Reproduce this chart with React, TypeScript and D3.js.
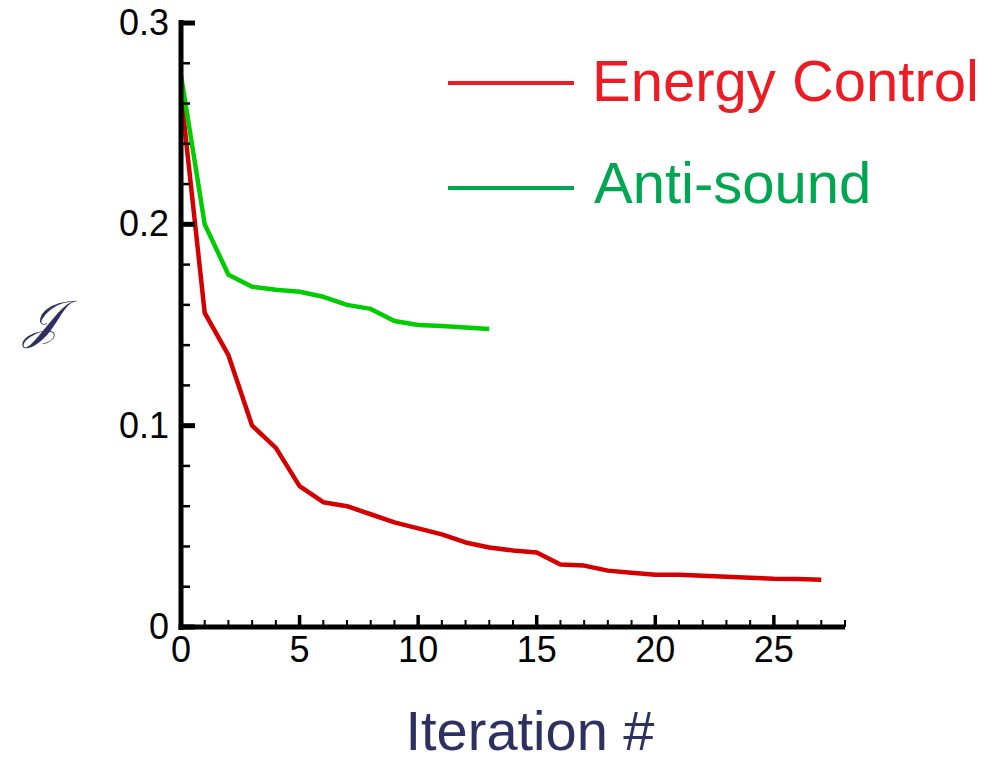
import React from "react";
import * as d3 from "d3";

const energyX = [0,1,2,3,4,5,6,7,8,9,10,11,12,13,14,15,16,17,18,19,20,21,22,23,24,25,26,27];
const energyY = [0.265,0.156,0.135,0.100,0.089,0.070,0.062,0.060,0.056,0.052,0.049,0.046,0.042,0.0395,0.038,0.037,0.031,0.0305,0.028,0.027,0.026,0.026,0.0255,0.025,0.0245,0.024,0.0238,0.0235];
const antiX = [0,1,2,3,4,5,6,7,8,9,10,11,12,13];
const antiY = [0.274,0.200,0.175,0.169,0.1675,0.1665,0.164,0.160,0.158,0.152,0.150,0.1495,0.1487,0.148];
const xMajorTicks = [0,5,10,15,20,25];
const yMajorTicks = [0,0.1,0.2,0.3];
const yTickLabels = ["0","0.1","0.2","0.3"];
const legendLabels = ["Energy Control","Anti-sound"];

export default function App() {
  const W = 996, H = 763;
  const x = d3.scaleLinear().domain([0, 28]).range([181, 845]);
  const y = d3.scaleLinear().domain([0, 0.3]).range([627, 23]);
  const line = d3.line<[number, number]>().x(d => x(d[0])).y(d => y(d[1]));
  const redPts = energyX.map((v, i) => [v, energyY[i]] as [number, number]);
  const greenPts = antiX.map((v, i) => [v, antiY[i]] as [number, number]);
  const xMinor = d3.range(0, 29).filter(v => v % 5 !== 0);
  const yMinor = d3.range(0, 0.3001, 0.02).filter(v => Math.abs(v * 10 - Math.round(v * 10)) > 1e-6);
  const font = "Liberation Sans, Arial, sans-serif";
  return (
    <svg width={W} height={H} style={{ display: "block", position: "absolute", left: 0, top: 0 }} fontFamily={font}>
      <rect width={W} height={H} fill="#fff" />
      {/* data lines */}
      <path d={line(redPts) || ""} fill="none" stroke="#d40000" strokeWidth={4.5} strokeLinejoin="round" />
      <path d={line(greenPts) || ""} fill="none" stroke="#00cc00" strokeWidth={4.5} strokeLinejoin="round" />
      {/* axes */}
      <line x1={x(0)} x2={x(0)} y1={y(0.3) - 3} y2={y(0) + 3} stroke="#000" strokeWidth={5} />
      <line x1={x(0) - 2.5} x2={x(28)} y1={y(0)} y2={y(0)} stroke="#000" strokeWidth={5} />
      {yMajorTicks.map(v => (
        <line key={"ym" + v} x1={x(0)} x2={x(0) + 14} y1={y(v)} y2={y(v)} stroke="#000" strokeWidth={5} />
      ))}
      {yMinor.map(v => (
        <line key={"yn" + v} x1={x(0)} x2={x(0) + 9} y1={y(v)} y2={y(v)} stroke="#000" strokeWidth={2.5} />
      ))}
      {xMajorTicks.map(v => (
        <line key={"xm" + v} x1={x(v)} x2={x(v)} y1={y(0)} y2={y(0) - 12} stroke="#000" strokeWidth={3.5} />
      ))}
      {xMinor.map(v => (
        <line key={"xn" + v} x1={x(v)} x2={x(v)} y1={y(0)} y2={y(0) - 7} stroke="#000" strokeWidth={2} />
      ))}
      {yMajorTicks.map((v, i) => (
        <text key={"yl" + v} x={x(0) - 12} y={y(v) + 12} textAnchor="end" fontSize={36} fill="#000">{yTickLabels[i]}</text>
      ))}
      {xMajorTicks.map(v => (
        <text key={"xl" + v} x={x(v)} y={y(0) + 35} textAnchor="middle" fontSize={36} fill="#000">{String(v)}</text>
      ))}
      {/* legend */}
      <line x1={448} x2={574} y1={83} y2={83} stroke="#ed1c24" strokeWidth={4} />
      <text x={592} y={101} fontSize={58} fill="#ed1c24">{legendLabels[0]}</text>
      <line x1={448} x2={574} y1={188} y2={188} stroke="#00a651" strokeWidth={4} />
      <text x={594} y={203} fontSize={58} fill="#00a651">{legendLabels[1]}</text>
      {/* axis titles */}
      <text x={530} y={750} textAnchor="middle" fontSize={56} fill="#2e3160">Iteration #</text>
      <text x={42} y={337} textAnchor="middle" fontSize={52} fill="#2e3160" fontFamily="DejaVu Serif, serif" fontStyle="italic">𝒥</text>
    </svg>
  );
}
